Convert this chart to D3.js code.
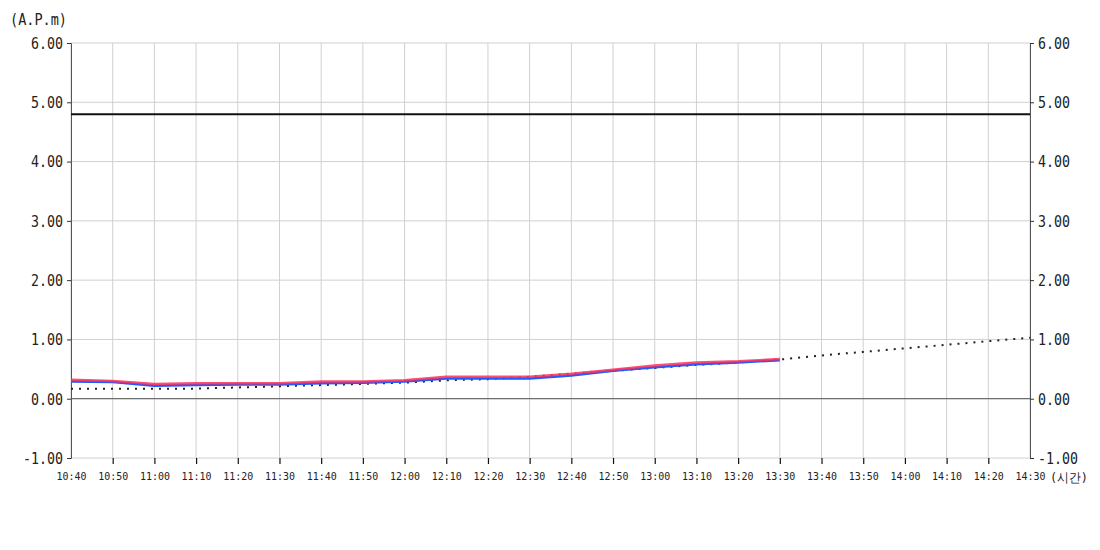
<!DOCTYPE html>
<html><head><meta charset="utf-8">
<script src="https://cdn.jsdelivr.net/npm/d3@7"></script>
<style>
body{margin:0;background:#fff;}
svg{display:block;}
svg text{font-family:"DejaVu Sans Mono",monospace;}
</style></head>
<body><svg id="c" width="1100" height="550"></svg>
<script>
const times = ["10:40","10:50","11:00","11:10","11:20","11:30","11:40","11:50","12:00","12:10","12:20","12:30","12:40","12:50","13:00","13:10","13:20","13:30","13:40","13:50","14:00","14:10","14:20","14:30"];
const redValues = [0.32,0.30,0.25,0.26,0.26,0.26,0.29,0.29,0.31,0.37,0.37,0.37,0.42,0.49,0.56,0.61,0.63,0.67];
const blueValues = [0.29,0.28,0.22,0.23,0.24,0.24,0.26,0.27,0.29,0.34,0.34,0.34,0.39,0.47,0.53,0.58,0.61,0.65];
const forecastValues = [0.17,0.17,0.17,0.17,0.19,0.21,0.23,0.25,0.27,0.31,0.33,0.37,0.42,0.47,0.52,0.57,0.61,0.66,0.73,0.79,0.85,0.91,0.97,1.03];
const thresholdValue = 4.8;
const yTicks = [-1,0,1,2,3,4,5,6];

const svg = d3.select("#c");
const L = 71, R = 1030, T = 43, B = 458;
const x = d3.scalePoint().domain(times).range([L, R]);
const y = d3.scaleLinear().domain([-1, 6]).range([B, T]);
const fmt = d => d.toFixed(2);
const MONO = "DejaVu Sans Mono";

// grid
svg.append("g").selectAll("line").data(times).join("line")
  .attr("x1", d => x(d)).attr("x2", d => x(d)).attr("y1", T).attr("y2", B)
  .attr("stroke", "#d0d0d0").attr("stroke-width", 1);
svg.append("g").selectAll("line").data(yTicks).join("line")
  .attr("x1", L).attr("x2", R).attr("y1", d => y(d)).attr("y2", d => y(d))
  .attr("stroke", "#d0d0d0").attr("stroke-width", 1);

// zero line
svg.append("line").attr("x1", L).attr("x2", R).attr("y1", y(0)).attr("y2", y(0))
  .attr("stroke", "#555").attr("stroke-width", 1);

function squeeze(sel, perChar) {
  sel.each(function() {
    const t = d3.select(this);
    const n = t.text().length;
    t.attr("textLength", n * perChar).attr("lengthAdjust", "spacingAndGlyphs");
  });
}

// left axis
const yl = svg.append("g").attr("transform", `translate(${L},0)`)
  .call(d3.axisLeft(y).tickValues(yTicks).tickFormat(fmt).tickSize(4));
yl.attr("font-family", MONO);
yl.select(".domain").attr("stroke", "#555");
yl.selectAll(".tick line").attr("stroke", "#333");
yl.selectAll("text").attr("font-family", MONO).attr("font-size", 15).attr("fill", "#222").attr("dx", -1).attr("dy", "0.36em");
squeeze(yl.selectAll("text"), 8);

// right axis
const yr = svg.append("g").attr("transform", `translate(${R},0)`)
  .call(d3.axisRight(y).tickValues(yTicks).tickFormat(fmt).tickSize(4));
yr.attr("font-family", MONO);
yr.select(".domain").attr("stroke", "#555");
yr.selectAll(".tick line").attr("stroke", "#333");
yr.selectAll("text").attr("font-family", MONO).attr("font-size", 15).attr("fill", "#222").attr("dx", 1).attr("dy", "0.36em");
squeeze(yr.selectAll("text"), 8);

// bottom axis
const xa = svg.append("g").attr("transform", `translate(0,${B})`)
  .call(d3.axisBottom(x).tickSize(6).tickPadding(8));
xa.attr("font-family", MONO);
xa.select(".domain").remove();
xa.selectAll(".tick line").attr("stroke", "#111").attr("stroke-width", 1.2)
  .attr("display", (d, i) => (i === 0 || i === times.length - 1) ? "none" : null);
xa.selectAll("text").attr("font-family", MONO).attr("font-size", 11).attr("fill", "#222");
squeeze(xa.selectAll("text"), 6);

// threshold
svg.append("line").attr("x1", L).attr("x2", R).attr("y1", y(thresholdValue)).attr("y2", y(thresholdValue))
  .attr("stroke", "#111").attr("stroke-width", 2);

const line = d3.line().x((d, i) => x(times[i])).y(d => y(d));

svg.append("path").datum(forecastValues).attr("d", line)
  .attr("fill", "none").attr("stroke", "#222").attr("stroke-width", 2).attr("stroke-dasharray", "2,6");
svg.append("path").datum(blueValues).attr("d", line)
  .attr("fill", "none").attr("stroke", "#1f5bff").attr("stroke-width", 2.5);
svg.append("path").datum(redValues).attr("d", line)
  .attr("fill", "none").attr("stroke", "#ff2f5a").attr("stroke-opacity", 0.85).attr("stroke-width", 2.5);

// unit labels
svg.append("text").attr("x", 10).attr("y", 25).attr("font-size", 15).attr("fill", "#222")
  .attr("textLength", 57).attr("lengthAdjust", "spacingAndGlyphs").text("(A.P.m)");
svg.append("text").attr("x", 1050).attr("y", 482).attr("font-size", 13).attr("fill", "#222")
  .attr("textLength", 38).attr("lengthAdjust", "spacingAndGlyphs").text("(시간)");
</script></body></html>
